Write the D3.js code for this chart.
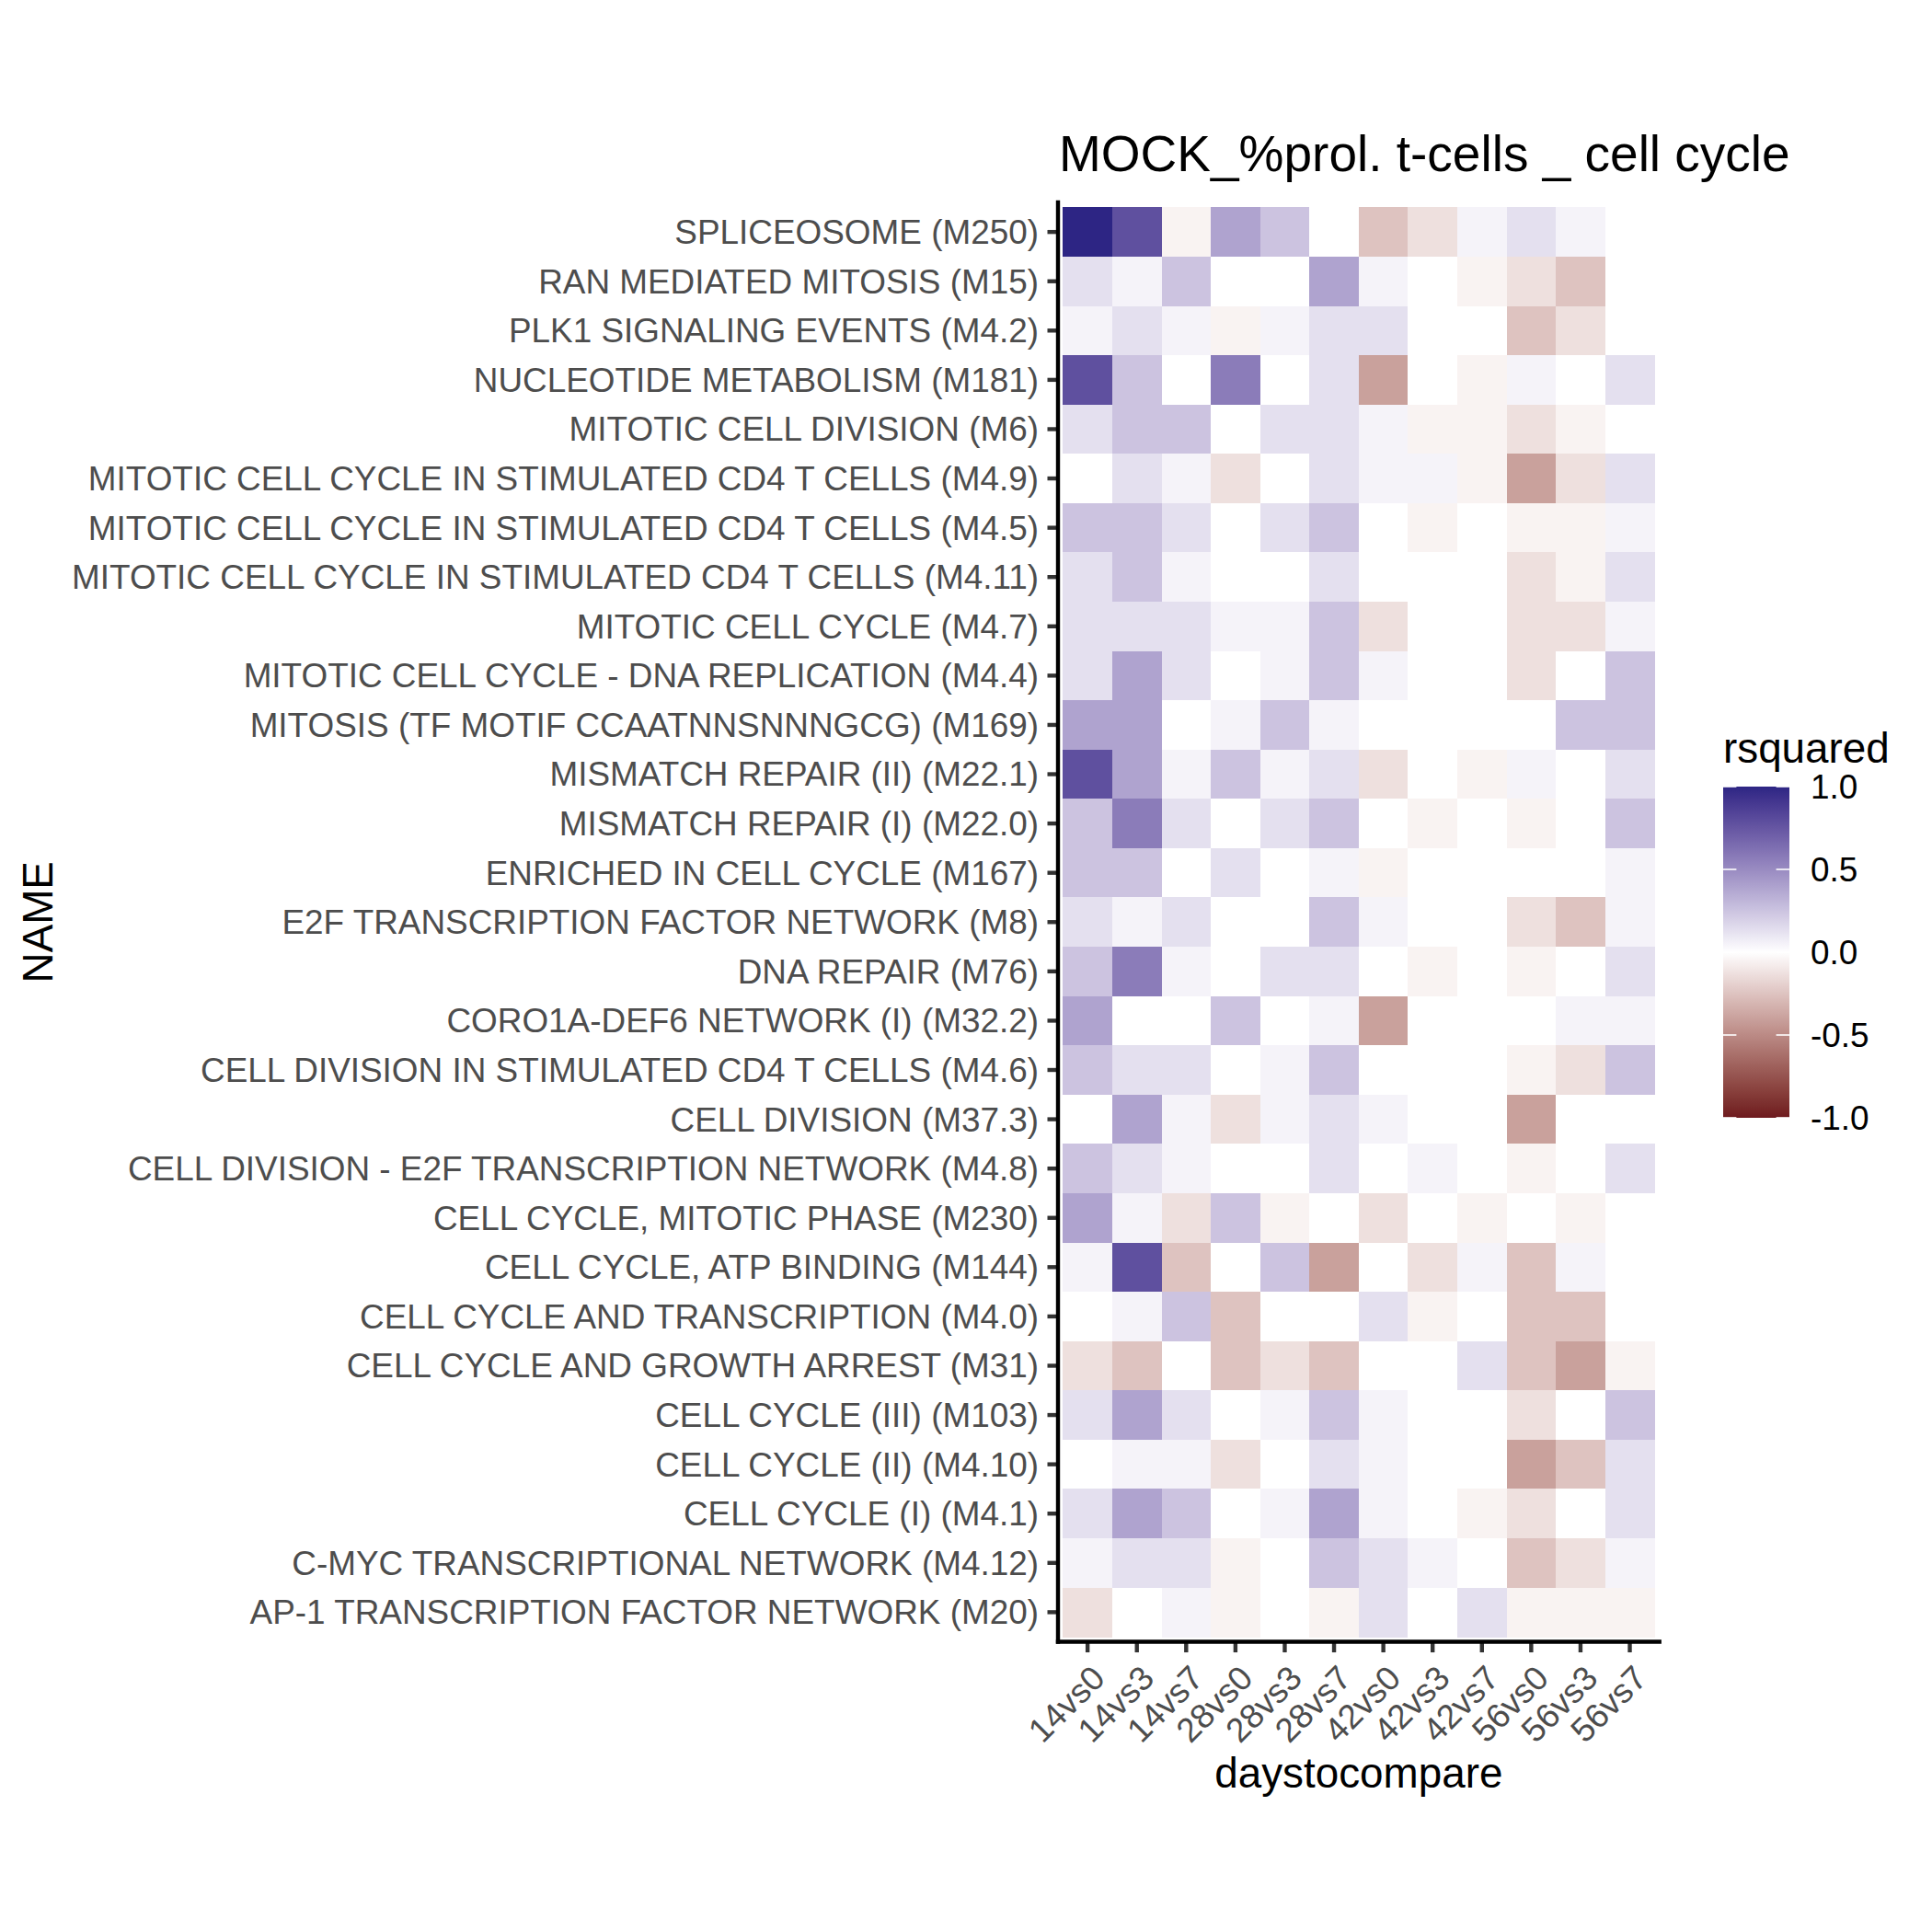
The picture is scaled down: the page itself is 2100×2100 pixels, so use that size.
<!DOCTYPE html>
<html>
<head>
<meta charset="utf-8">
<script src="https://cdn.jsdelivr.net/npm/d3@7"></script>
<style>
  html, body { margin: 0; padding: 0; background: #fff; }
  svg { display: block; }
  text { font-family: "Liberation Sans", Arial, Helvetica, sans-serif; }
</style>
</head>
<body>
<script>
// ---------------- DATA ----------------
const title = "MOCK_%prol. t-cells _ cell cycle";
const xTitle = "daystocompare";
const yTitle = "NAME";
const legendTitle = "rsquared";

const daysToCompare = ["14vs0","14vs3","14vs7","28vs0","28vs3","28vs7","42vs0","42vs3","42vs7","56vs0","56vs3","56vs7"];

// top to bottom as displayed
const moduleNames = [
  "SPLICEOSOME (M250)",
  "RAN MEDIATED MITOSIS (M15)",
  "PLK1 SIGNALING EVENTS (M4.2)",
  "NUCLEOTIDE METABOLISM (M181)",
  "MITOTIC CELL DIVISION (M6)",
  "MITOTIC CELL CYCLE IN STIMULATED CD4 T CELLS (M4.9)",
  "MITOTIC CELL CYCLE IN STIMULATED CD4 T CELLS (M4.5)",
  "MITOTIC CELL CYCLE IN STIMULATED CD4 T CELLS (M4.11)",
  "MITOTIC CELL CYCLE (M4.7)",
  "MITOTIC CELL CYCLE - DNA REPLICATION (M4.4)",
  "MITOSIS (TF MOTIF CCAATNNSNNNGCG) (M169)",
  "MISMATCH REPAIR (II) (M22.1)",
  "MISMATCH REPAIR (I) (M22.0)",
  "ENRICHED IN CELL CYCLE (M167)",
  "E2F TRANSCRIPTION FACTOR NETWORK (M8)",
  "DNA REPAIR (M76)",
  "CORO1A-DEF6 NETWORK (I) (M32.2)",
  "CELL DIVISION IN STIMULATED CD4 T CELLS (M4.6)",
  "CELL DIVISION (M37.3)",
  "CELL DIVISION - E2F TRANSCRIPTION NETWORK (M4.8)",
  "CELL CYCLE, MITOTIC PHASE (M230)",
  "CELL CYCLE, ATP BINDING (M144)",
  "CELL CYCLE AND TRANSCRIPTION (M4.0)",
  "CELL CYCLE AND GROWTH ARREST (M31)",
  "CELL CYCLE (III) (M103)",
  "CELL CYCLE (II) (M4.10)",
  "CELL CYCLE (I) (M4.1)",
  "C-MYC TRANSCRIPTIONAL NETWORK (M4.12)",
  "AP-1 TRANSCRIPTION FACTOR NETWORK (M20)"
];

// rsquared, one row per module (same order), one value per comparison
const rsquared = [
  [ 1.00, 0.78,-0.05, 0.39, 0.25, 0.00,-0.25,-0.13, 0.05, 0.13, 0.05, 0.00],
  [ 0.13, 0.05, 0.25, 0.00, 0.00, 0.39, 0.05, 0.00,-0.05,-0.13,-0.25, 0.00],
  [ 0.05, 0.13, 0.05,-0.05, 0.05, 0.13, 0.13, 0.00, 0.00,-0.25,-0.13, 0.00],
  [ 0.78, 0.25, 0.00, 0.57, 0.00, 0.13,-0.40, 0.00,-0.05, 0.05, 0.00, 0.13],
  [ 0.13, 0.25, 0.25, 0.00, 0.13, 0.13, 0.05,-0.05,-0.05,-0.13,-0.05, 0.00],
  [ 0.00, 0.13, 0.05,-0.13, 0.00, 0.13, 0.05, 0.05,-0.05,-0.40,-0.13, 0.13],
  [ 0.25, 0.25, 0.13, 0.00, 0.13, 0.25, 0.00,-0.05, 0.00,-0.05,-0.05, 0.05],
  [ 0.13, 0.25, 0.05, 0.00, 0.00, 0.13, 0.00, 0.00, 0.00,-0.13,-0.05, 0.13],
  [ 0.13, 0.13, 0.13, 0.05, 0.05, 0.25,-0.13, 0.00, 0.00,-0.13,-0.13, 0.05],
  [ 0.13, 0.39, 0.13, 0.00, 0.05, 0.25, 0.05, 0.00, 0.00,-0.13, 0.00, 0.25],
  [ 0.39, 0.39, 0.00, 0.05, 0.25, 0.05, 0.00, 0.00, 0.00, 0.00, 0.25, 0.25],
  [ 0.78, 0.39, 0.05, 0.25, 0.05, 0.13,-0.13, 0.00,-0.05, 0.05, 0.00, 0.13],
  [ 0.25, 0.57, 0.13, 0.00, 0.13, 0.25, 0.00,-0.05, 0.00,-0.05, 0.00, 0.25],
  [ 0.25, 0.25, 0.00, 0.13, 0.00, 0.05,-0.05, 0.00, 0.00, 0.00, 0.00, 0.05],
  [ 0.13, 0.05, 0.13, 0.00, 0.00, 0.25, 0.05, 0.00, 0.00,-0.13,-0.25, 0.05],
  [ 0.25, 0.57, 0.05, 0.00, 0.13, 0.13, 0.00,-0.05, 0.00,-0.05, 0.00, 0.13],
  [ 0.39, 0.00, 0.00, 0.25, 0.00, 0.05,-0.40, 0.00, 0.00, 0.00, 0.05, 0.05],
  [ 0.25, 0.13, 0.13, 0.00, 0.05, 0.25, 0.00, 0.00, 0.00,-0.05,-0.13, 0.25],
  [ 0.00, 0.39, 0.05,-0.13, 0.05, 0.13, 0.05, 0.00, 0.00,-0.40, 0.00, 0.00],
  [ 0.25, 0.13, 0.05, 0.00, 0.00, 0.13, 0.00, 0.05, 0.00,-0.05, 0.00, 0.13],
  [ 0.39, 0.05,-0.13, 0.25,-0.05, 0.00,-0.13, 0.00,-0.05, 0.00,-0.05, 0.00],
  [ 0.05, 0.78,-0.25, 0.00, 0.25,-0.40, 0.00,-0.13, 0.05,-0.25, 0.05, 0.00],
  [ 0.00, 0.05, 0.25,-0.25, 0.00, 0.00, 0.13,-0.05, 0.00,-0.25,-0.25, 0.00],
  [-0.13,-0.25, 0.00,-0.25,-0.13,-0.25, 0.00, 0.00, 0.13,-0.25,-0.40,-0.05],
  [ 0.13, 0.39, 0.13, 0.00, 0.05, 0.25, 0.05, 0.00, 0.00,-0.13, 0.00, 0.25],
  [ 0.00, 0.05, 0.05,-0.13, 0.00, 0.13, 0.05, 0.00, 0.00,-0.40,-0.25, 0.13],
  [ 0.13, 0.39, 0.25, 0.00, 0.05, 0.39, 0.05, 0.00,-0.05,-0.13, 0.00, 0.13],
  [ 0.05, 0.13, 0.13,-0.05, 0.00, 0.25, 0.13, 0.05, 0.00,-0.25,-0.13, 0.05],
  [-0.13, 0.00, 0.05,-0.05, 0.00,-0.05, 0.13, 0.00, 0.13,-0.05,-0.05,-0.05]
];

const legendBreaks = [-1.0, -0.5, 0.0, 0.5, 1.0];
const legendLabels = ["-1.0", "-0.5", "0.0", "0.5", "1.0"];
const fillLimits = [-1, 1];
const lowColor = "#6E1A1E", midColor = "#FFFFFF", highColor = "#2D2584";

// ---------------- LAYOUT ----------------
const W = 2100, H = 2100;
const unit = 53.58;
const panelLeft = 1150, panelTop = 220;
const panelW = (daysToCompare.length + 0.2) * unit;
const panelH = (moduleNames.length + 0.2) * unit;
const panelBottom = panelTop + panelH, panelRight = panelLeft + panelW;

const svg = d3.select("body").append("svg")
  .attr("width", W).attr("height", H)
  .attr("viewBox", `0 0 ${W} ${H}`);

svg.append("rect").attr("width", W).attr("height", H).attr("fill", "#fff");

const x = d3.scaleBand().domain(daysToCompare)
  .range([panelLeft, panelRight]).paddingInner(0).paddingOuter(0.1);
const y = d3.scaleBand().domain(moduleNames)
  .range([panelTop, panelBottom]).paddingInner(0).paddingOuter(0.1);

const colorPos = d3.scaleLinear().domain([0, 1]).range([midColor, highColor]).interpolate(d3.interpolateLab).clamp(true);
const colorNeg = d3.scaleLinear().domain([0, -1]).range([midColor, lowColor]).interpolate(d3.interpolateLab).clamp(true);
const fill = v => v >= 0 ? colorPos(v) : colorNeg(v);

// cells
const cells = [];
moduleNames.forEach((m, i) => daysToCompare.forEach((d, j) => cells.push({m, d, v: rsquared[i][j]})));
svg.append("g").selectAll("rect").data(cells).join("rect")
  .attr("x", c => x(c.d))
  .attr("y", c => y(c.m))
  .attr("width", x.bandwidth() + 0.5)
  .attr("height", y.bandwidth() + 0.5)
  .attr("fill", c => fill(c.v))
  .attr("shape-rendering", "crispEdges");

const tickFont = 36.9, titleFont = 45.8;

// y axis
const yAxis = svg.append("g").attr("transform", `translate(${panelLeft},0)`)
  .call(d3.axisLeft(y).tickSize(11.5).tickPadding(9.5));
yAxis.select(".domain").remove();
yAxis.selectAll(".tick line").attr("stroke", "#333333").attr("stroke-width", 4.4);
yAxis.selectAll(".tick text").attr("fill", "#4D4D4D").attr("font-size", tickFont)
  .attr("font-family", "Liberation Sans, Arial, sans-serif").attr("dy", "0.35em");

// x axis
const xAxis = svg.append("g").attr("transform", `translate(0,${panelBottom})`)
  .call(d3.axisBottom(x).tickSize(11.5).tickPadding(0));
xAxis.select(".domain").remove();
xAxis.selectAll(".tick line").attr("stroke", "#333333").attr("stroke-width", 4.4);
xAxis.selectAll(".tick text")
  .attr("fill", "#4D4D4D").attr("font-size", tickFont)
  .attr("font-family", "Liberation Sans, Arial, sans-serif")
  .attr("text-anchor", "end")
  .attr("y", 0).attr("dy", "0.72em")
  .attr("transform", "translate(2,23) rotate(-45)");

// axis lines
svg.append("line").attr("x1", panelLeft).attr("x2", panelLeft)
  .attr("y1", panelTop).attr("y2", panelBottom)
  .attr("stroke", "#000").attr("stroke-width", 4.4).attr("stroke-linecap", "square");
svg.append("line").attr("x1", panelLeft).attr("x2", panelRight)
  .attr("y1", panelBottom).attr("y2", panelBottom)
  .attr("stroke", "#000").attr("stroke-width", 4.4).attr("stroke-linecap", "square");

// titles
svg.append("text").attr("x", panelLeft + 1).attr("y", 186)
  .attr("font-size", 55).attr("fill", "#000").text(title);
svg.append("text").attr("x", (panelLeft + panelRight) / 2).attr("y", 1943)
  .attr("text-anchor", "middle").attr("font-size", titleFont).attr("fill", "#000").text(xTitle);
svg.append("text").attr("transform", `translate(57,${(panelTop + panelBottom) / 2}) rotate(-90)`)
  .attr("text-anchor", "middle").attr("font-size", titleFont).attr("fill", "#000").text(yTitle);

// legend
const legX = 1873, legW = 72, legTop = 855, legH = 360;
const legScale = d3.scaleLinear().domain(fillLimits).range([legTop + legH, legTop]);
const defs = svg.append("defs");
const grad = defs.append("linearGradient").attr("id", "legGrad")
  .attr("x1", 0).attr("y1", 1).attr("x2", 0).attr("y2", 0);
d3.range(0, 101).forEach(k => {
  const v = fillLimits[0] + (fillLimits[1] - fillLimits[0]) * k / 100;
  grad.append("stop").attr("offset", `${k}%`).attr("stop-color", fill(v));
});
svg.append("rect").attr("x", legX).attr("y", legTop).attr("width", legW).attr("height", legH)
  .attr("fill", "url(#legGrad)");
const legTicks = svg.append("g");
legendBreaks.forEach((b, i) => {
  const yy = legScale(b);
  legTicks.append("line").attr("x1", legX).attr("x2", legX + legW / 5)
    .attr("y1", yy).attr("y2", yy).attr("stroke", "#fff").attr("stroke-width", 1.6);
  legTicks.append("line").attr("x1", legX + legW * 4 / 5).attr("x2", legX + legW)
    .attr("y1", yy).attr("y2", yy).attr("stroke", "#fff").attr("stroke-width", 1.6);
  legTicks.append("text").attr("x", legX + legW + 23).attr("y", yy).attr("dy", "0.36em")
    .attr("font-size", tickFont).attr("fill", "#000").text(legendLabels[i]);
});
svg.append("text").attr("x", legX).attr("y", 829)
  .attr("font-size", titleFont).attr("fill", "#000").text(legendTitle);
</script>
</body>
</html>
